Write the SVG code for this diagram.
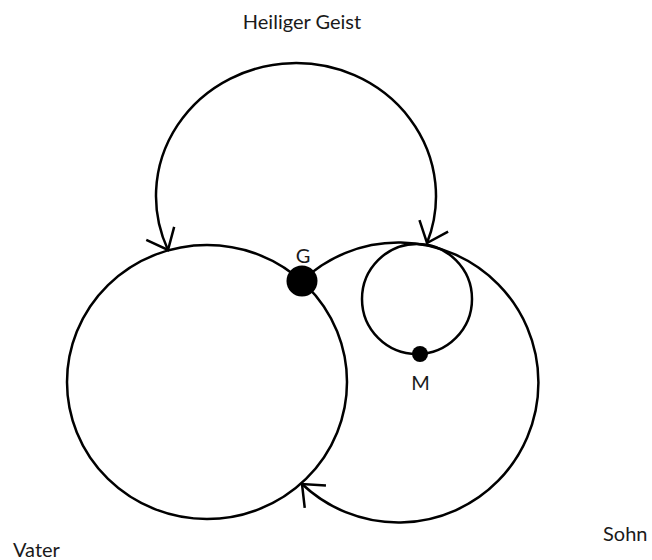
<svg xmlns="http://www.w3.org/2000/svg" width="652" height="560" viewBox="0 0 652 560">
<style>
.ln{fill:none;stroke:#000;stroke-width:2.5}
.dot{fill:#000}
.lbl{font-family:Lato,"Open Sans",sans-serif;font-size:20px;fill:#1a1a1a}
</style>
<defs>
<marker id="arr" markerUnits="userSpaceOnUse" markerWidth="40" markerHeight="40" viewBox="-30 -20 40 40" refX="0" refY="0" orient="auto-start-reverse" overflow="visible">
<path d="M -18.4 -15.4 L 0 0 L -18.4 15.4" fill="none" stroke="#000" stroke-width="2.5"/>
</marker>
</defs>
<rect width="652" height="560" fill="#fff"/>
<g id="connectors">
<path id="geist-arc" class="ln" d="M 168 250 A 140 133 0 1 1 427 243" marker-start="url(#arr)" marker-end="url(#arr)"/>
<path id="sohn-arc" class="ln" d="M 302 281 A 140 140 0 1 1 302 484" marker-end="url(#arr)"/>
</g>
<g id="vater">
<ellipse class="ln" cx="207" cy="382" rx="140" ry="137"/>
<text class="lbl" x="13" y="557">Vater</text>
</g>
<g id="sohn">
<text class="lbl" x="603" y="541">Sohn</text>
</g>
<g id="geist">
<text class="lbl" x="302" y="29" text-anchor="middle">Heiliger Geist</text>
</g>
<g id="m">
<circle class="ln" cx="417" cy="299" r="55"/>
<circle class="dot" cx="420" cy="354" r="8"/>
<text class="lbl" x="420.5" y="390" text-anchor="middle">M</text>
</g>
<g id="g">
<circle class="dot" cx="302" cy="281" r="15.5"/>
<text class="lbl" x="303" y="263" text-anchor="middle">G</text>
</g>
</svg>
